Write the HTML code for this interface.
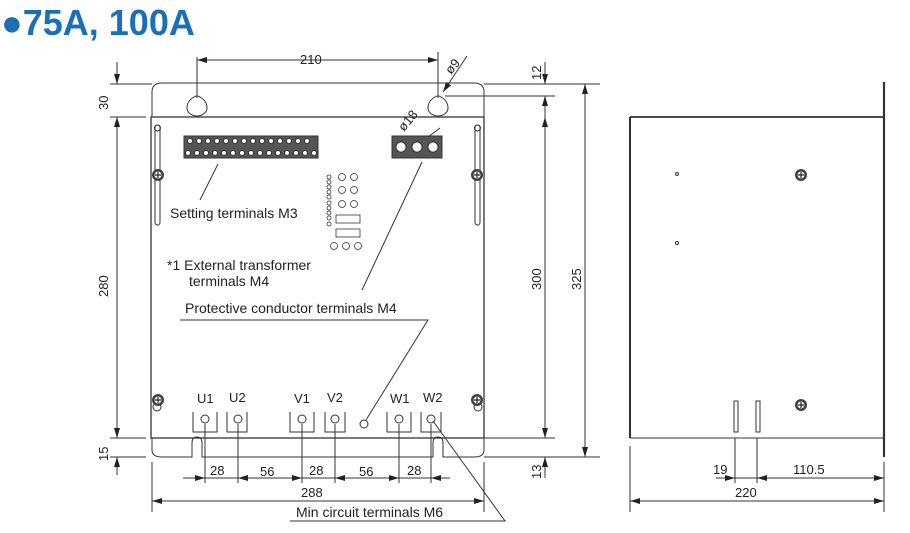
<!DOCTYPE html>
<html><head><meta charset="utf-8"><style>
body{margin:0;background:#fff;width:910px;height:533px;overflow:hidden}
svg{display:block}
text{font-family:"Liberation Sans",sans-serif;fill:#222}
</style></head><body>
<svg width="910" height="533" viewBox="0 0 910 533" xmlns="http://www.w3.org/2000/svg">
<defs>
<marker id="a" viewBox="0 0 10 6" refX="10" refY="3" markerWidth="10" markerHeight="6" orient="auto-start-reverse" markerUnits="userSpaceOnUse"><path d="M0,0L10,3L0,6z" fill="#222"/></marker>
<g id="scr"><circle r="6" fill="#444"/><circle r="4" fill="#fff" stroke="#333"/><path d="M-3,0H3M0,-3V3" stroke="#222" stroke-width="1.2"/></g>
</defs>
<text x="1" y="35" font-size="36" font-weight="bold" style="fill:#1a6fb5">●75A, 100A</text>
<g fill="none" stroke="#333" stroke-width="1">
<path d="M152,117V92Q152,83 162,83H474Q484,83 484,92V117"/>
<rect x="151" y="117" width="333" height="321" stroke-width="1.3"/>
<path d="M152,438V450Q152,457 162,457H192V443Q192,437 197,437Q202,437 202,443V457H433V443Q433,437 438,437Q443,437 443,443V457H474Q484,457 484,450V438"/>
<path d="M194,97A5,5 0 0,1 200,97Q207,101 207,108A10,8 0 0,1 187,108Q187,101 194,97Z"/>
<path d="M435,97A5,5 0 0,1 441,97Q448,101 448,108A10,8 0 0,1 428,108Q428,101 435,97Z"/>
<rect x="155" y="125" width="5" height="100" rx="2.5"/><circle cx="157.5" cy="128" r="3"/>
<rect x="475" y="125" width="5" height="100" rx="2.5"/><circle cx="477.5" cy="128" r="3"/>
<rect x="184" y="136" width="134" height="22" fill="#555"/>
<rect x="392" y="136" width="50" height="22" fill="#555"/>
<g stroke-width="0.8">
<circle cx="329" cy="177" r="2"/><circle cx="329" cy="182" r="2"/><circle cx="329" cy="187" r="2"/><circle cx="329" cy="192" r="2"/><circle cx="329" cy="197" r="2"/><circle cx="329" cy="203" r="2"/><circle cx="329" cy="208" r="2"/><circle cx="329" cy="213" r="2"/><circle cx="329" cy="218" r="2"/><circle cx="329" cy="224" r="2"/>
<circle cx="342" cy="177" r="3.5"/><circle cx="354" cy="177" r="3.5"/><circle cx="342" cy="190" r="3.5"/><circle cx="354" cy="190" r="3.5"/><circle cx="342" cy="204" r="3.5"/><circle cx="354" cy="204" r="3.5"/>
<rect x="336" y="215" width="24" height="8"/><rect x="336" y="229" width="24" height="8"/>
<circle cx="334" cy="246" r="3.5"/><circle cx="346" cy="246" r="3.5"/><circle cx="358" cy="246" r="3.5"/>
</g>
<path d="M193,412V432H217V412M227,412V432H247V412M290,412V432H314V412M325,412V432H345V412M387,412V432H411V412M421,412V432H441V412"/>
<circle cx="205" cy="419" r="4"/><circle cx="238" cy="419" r="4"/><circle cx="302" cy="419" r="4"/><circle cx="335" cy="419" r="4"/><circle cx="364" cy="424" r="4"/><circle cx="399" cy="419" r="4"/><circle cx="431" cy="419" r="4"/>
<circle cx="157" cy="407" r="4"/><circle cx="478" cy="407" r="4"/>
<path d="M218,164L200,200M422,162L362,290M180,320H428L366,420M290,521H505L433,421"/>
<path d="M467,56L443,92" marker-end="url(#a)"/>
<path d="M428,137L440,128"/>
<path d="M197,57V98M438,52V98M445,96H555M484,84H600M484,457H600M484,438H555M110,84H152M110,117H146M110,438H146M110,457H146"/>
<path d="M197,60H438" marker-start="url(#a)" marker-end="url(#a)"/>
<path d="M117,62V84" marker-end="url(#a)"/><path d="M117,117V438" marker-start="url(#a)" marker-end="url(#a)"/><path d="M117,475V457" marker-end="url(#a)"/>
<path d="M545,62V84" marker-end="url(#a)"/><path d="M545,117V96" marker-end="url(#a)"/>
<path d="M545,117V438" marker-start="url(#a)" marker-end="url(#a)"/>
<path d="M585,84V457" marker-start="url(#a)" marker-end="url(#a)"/>
<path d="M545,478V457" marker-end="url(#a)"/>
<path d="M205,424V483M238,424V483M302,424V483M335,424V483M399,424V483M431,424V483M152,462V512M484,462V512"/>
<path d="M183,478H205" marker-end="url(#a)"/><path d="M205,478H238M238,478H302M302,478H335M335,478H399M399,478H431"/>
<path d="M238,478H302" marker-start="url(#a)" marker-end="url(#a)"/><path d="M335,478H399" marker-start="url(#a)" marker-end="url(#a)"/>
<path d="M450,478H431" marker-end="url(#a)"/>
<path d="M152,501H484" marker-start="url(#a)" marker-end="url(#a)"/>
<path d="M630,117V438" stroke-width="2"/>
<path d="M630,117H884" stroke-width="1.8"/>
<path d="M630,438H884"/>
<path d="M884,82V457" stroke-width="2.2"/>
<circle cx="677" cy="174" r="1.5"/><circle cx="677" cy="243" r="1.5"/>
<rect x="734" y="401" width="4" height="31"/><rect x="756" y="401" width="4" height="31"/>
<path d="M630,446V512M884,462V512M735,438V483M757,438V483"/>
<path d="M716,478H735" marker-end="url(#a)"/><path d="M735,478H757"/><path d="M757,478H884" marker-start="url(#a)" marker-end="url(#a)"/>
<path d="M630,501H884" marker-start="url(#a)" marker-end="url(#a)"/>
</g>
<use href="#scr" x="801" y="175"/><use href="#scr" x="801" y="405"/>
<use href="#scr" x="158" y="175"/><use href="#scr" x="477" y="175"/>
<use href="#scr" x="158" y="400"/><use href="#scr" x="477" y="400"/>
<g fill="#fff" stroke="#222" stroke-width="0.8">
<circle cx="190" cy="141" r="2.5"/><circle cx="199" cy="141" r="2.5"/><circle cx="208" cy="141" r="2.5"/><circle cx="217" cy="141" r="2.5"/><circle cx="226" cy="141" r="2.5"/><circle cx="235" cy="141" r="2.5"/><circle cx="244" cy="141" r="2.5"/><circle cx="253" cy="141" r="2.5"/><circle cx="262" cy="141" r="2.5"/><circle cx="271" cy="141" r="2.5"/><circle cx="280" cy="141" r="2.5"/><circle cx="289" cy="141" r="2.5"/><circle cx="298" cy="141" r="2.5"/><circle cx="307" cy="141" r="2.5"/>
<circle cx="188" cy="153" r="2.5"/><circle cx="197" cy="153" r="2.5"/><circle cx="206" cy="153" r="2.5"/><circle cx="215" cy="153" r="2.5"/><circle cx="224" cy="153" r="2.5"/><circle cx="233" cy="153" r="2.5"/><circle cx="242" cy="153" r="2.5"/><circle cx="251" cy="153" r="2.5"/><circle cx="260" cy="153" r="2.5"/><circle cx="269" cy="153" r="2.5"/><circle cx="278" cy="153" r="2.5"/><circle cx="287" cy="153" r="2.5"/><circle cx="296" cy="153" r="2.5"/><circle cx="305" cy="153" r="2.5"/><circle cx="314" cy="153" r="2.5"/>
<circle cx="401" cy="147" r="5"/><circle cx="417" cy="147" r="5"/><circle cx="433" cy="147" r="5"/>
</g>
<g font-size="14">
<text x="170" y="218">Setting terminals M3</text>
<text x="167" y="270">*1 External transformer</text>
<text x="189" y="286">terminals M4</text>
<text x="185" y="313">Protective conductor terminals M4</text>
<text x="296" y="517">Min circuit terminals M6</text>
</g>
<g font-size="13">
<text x="300" y="64">210</text>
<text x="197" y="403">U1</text><text x="229" y="402">U2</text><text x="294" y="403">V1</text><text x="327" y="402">V2</text><text x="390" y="403">W1</text><text x="423" y="402">W2</text>
<text x="210" y="475">28</text><text x="260" y="476">56</text><text x="309" y="475">28</text><text x="359" y="476">56</text><text x="407" y="475">28</text>
<text x="301" y="497">288</text>
<text x="713" y="474">19</text><text x="793" y="474">110.5</text><text x="735" y="497">220</text>
<text transform="translate(108,110) rotate(-90)">30</text>
<text transform="translate(108,297) rotate(-90)">280</text>
<text transform="translate(108,461) rotate(-90)">15</text>
<text transform="translate(541,80) rotate(-90)">12</text>
<text transform="translate(541,290) rotate(-90)">300</text>
<text transform="translate(581,290) rotate(-90)">325</text>
<text transform="translate(541,479) rotate(-90)">13</text>
<text transform="translate(451,75) rotate(-50)">ø9</text>
<text transform="translate(404,132) rotate(-50)">ø18</text>
</g>
</svg>
</body></html>
